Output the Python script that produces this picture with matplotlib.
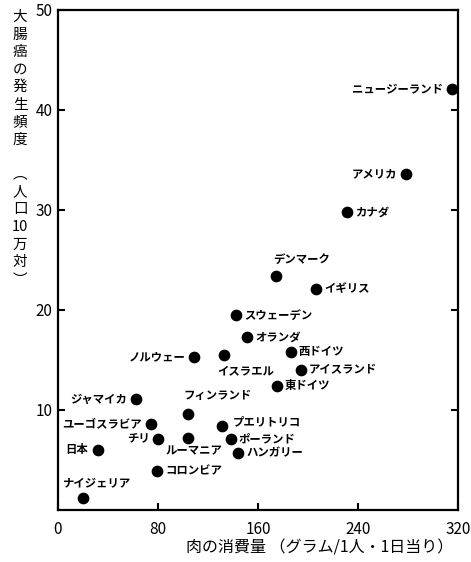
import matplotlib.pyplot as plt

plt.rcParams['font.family'] = ['Noto Sans CJK JP', 'DejaVu Sans']

countries = ['ニュージーランド', 'アメリカ', 'カナダ', 'デンマーク', 'イギリス',
             'スウェーデン', 'オランダ', '西ドイツ', 'ノルウェー', 'イスラエル',
             'アイスランド', '東ドイツ', 'ジャマイカ', 'フィンランド', 'ユーゴスラビア',
             'プエリトリコ', 'チリ', 'ルーマニア', 'ポーランド', '日本',
             'ハンガリー', 'コロンビア', 'ナイジェリア']
meat = [315, 278, 231, 174, 206,
        142, 151, 186, 109, 133,
        194, 175, 62, 104, 74,
        131, 80, 104, 138, 32,
        144, 79, 20]
incidence = [42.1, 33.6, 29.8, 23.4, 22.1,
             19.5, 17.3, 15.8, 15.3, 15.5,
             14.0, 12.4, 11.1, 9.6, 8.6,
             8.4, 7.1, 7.2, 7.1, 6.0,
             5.7, 3.9, 1.2]

x_ticks = [0, 80, 160, 240, 320]
y_ticks = [10, 20, 30, 40, 50]

# where each label sits relative to its dot (offset in points, alignment)
label_pos = {
    'ニュージーランド': (-6, 0, 'right'),
    'アメリカ': (-6, 0, 'right'),
    'カナダ': (6, 0, 'left'),
    'デンマーク': (-2, 12, 'left'),
    'イギリス': (6, 0, 'left'),
    'スウェーデン': (6, 0, 'left'),
    'オランダ': (6, 0, 'left'),
    '西ドイツ': (6, 0, 'left'),
    'ノルウェー': (-6, 0, 'right'),
    'イスラエル': (-5, -11, 'left'),
    'アイスランド': (6, 0, 'left'),
    '東ドイツ': (6, 0, 'left'),
    'ジャマイカ': (-6, 0, 'right'),
    'フィンランド': (-3, 13, 'left'),
    'ユーゴスラビア': (-6, 0, 'right'),
    'プエリトリコ': (8, 3, 'left'),
    'チリ': (-6, 0, 'right'),
    'ルーマニア': (4, -9, 'center'),
    'ポーランド': (6, 0, 'left'),
    '日本': (-7, 0, 'right'),
    'ハンガリー': (6, 0, 'left'),
    'コロンビア': (6, 0, 'left'),
    'ナイジェリア': (-15, 11, 'left'),
}

W, H = 471, 562
fig = plt.figure(figsize=(W / 100, H / 100), dpi=100)
ax = fig.add_axes([58 / W, 52 / H, 400 / W, 500 / H])

ax.scatter(meat, incidence, s=55, color='black', zorder=3)
for name, xv, yv in zip(countries, meat, incidence):
    dx, dy, ha = label_pos[name]
    ax.annotate(name, (xv, yv), xytext=(dx, dy), textcoords='offset points',
                ha=ha, va='center', fontsize=8.2, fontweight='bold')

ax.set_xlim(0, 320)
ax.set_ylim(0, 50)
ax.set_xticks(x_ticks)
ax.set_yticks(y_ticks)
ax.tick_params(direction='in', length=5, width=1.5, labelsize=11, pad=4,
               right=True, top=False)
ax.tick_params(axis='x', pad=8)
for sp in ax.spines.values():
    sp.set_linewidth(1.6)

fig.text(320 / W, 1 - 548 / H, '肉の消費量 （グラム/1人・1日当り）',
         ha='center', va='center', fontsize=11.5)

# vertical (tategaki) y label, one character per line
ylabel = ['大', '腸', '癌', 'の', '発', '生', '頻', '度', '', '︵', '人', '口', '10', '万', '対', '︶']
for i, ch in enumerate(ylabel):
    fig.text(20 / W, 1 - (17 + i * 17.5) / H, ch, ha='center', va='center', fontsize=10.5)

fig.savefig('out.png', dpi=100)
